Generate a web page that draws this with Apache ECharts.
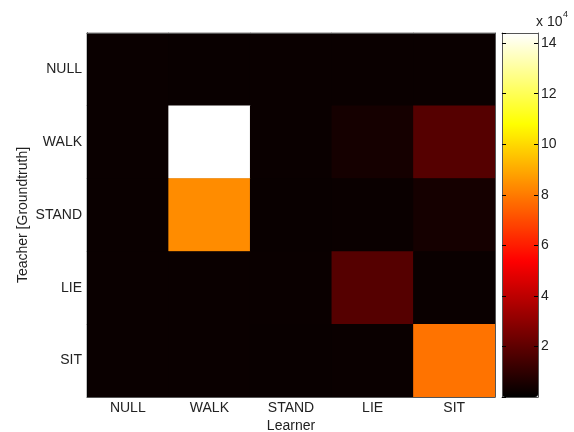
<!DOCTYPE html>
<html><head><meta charset="utf-8">
<script src="https://cdn.jsdelivr.net/npm/echarts@6/dist/echarts.min.js"></script>
<style>html,body{margin:0;padding:0;background:#fff}#c{width:574px;height:432px}</style>
</head><body><div id="c"></div>
<script>
const learners = ['NULL', 'WALK', 'STAND', 'LIE', 'SIT'];
const teachers = ['NULL', 'WALK', 'STAND', 'LIE', 'SIT'];
// rows: teacher (groundtruth), columns: learner
const nullRow  = [2100, 2000, 2150, 2050, 2100];
const walkRow  = [2050, 144000, 2100, 4450, 18000];
const standRow = [2100, 83700, 2000, 2150, 4450];
const lieRow   = [2150, 2050, 2100, 18000, 2100];
const sitRow   = [2050, 2100, 2000, 2150, 78400];
const rows = [nullRow, walkRow, standRow, lieRow, sitRow];
const colorMin = 0;
const colorMax = 144000;
const colorTickStep = 20000;

const data = [];
rows.forEach((r, i) => r.forEach((v, j) => data.push([j, i, v])));

const hot = ['#000000','#550000','#aa0000','#ff0000','#ff5500','#ffaa00','#ffff00','#ffff80','#ffffff'];
const font = 'Liberation Sans, Arial, sans-serif';
const fs = 14;
const txt = '#222';
const frame = '#555';

const chart = echarts.init(document.getElementById('c'), null, {renderer: 'canvas'});
chart.setOption({
  animation: false,
  backgroundColor: '#fff',
  title: [
    {text: 'x 10', left: 536, top: 15, padding: 0,
     textStyle: {fontFamily: font, fontSize: fs, fontWeight: 'normal', color: txt}},
    {text: '4', left: 563, top: 10, padding: 0,
     textStyle: {fontFamily: font, fontSize: 9, fontWeight: 'normal', color: txt}}
  ],
  grid: [
    {left: 87, right: 79, top: 33, bottom: 35, show: true, backgroundColor: '#0a0000', borderWidth: 0,
     containLabel: false, outerBoundsMode: 'none'},
    {left: 502, right: 36, top: 33, bottom: 35, containLabel: false, outerBoundsMode: 'none'}
  ],
  xAxis: [
    {type: 'category', data: learners, gridIndex: 0, position: 'bottom', z: 5,
     name: 'Learner', nameLocation: 'middle', nameGap: 22, nameMoveOverlap: false,
     nameTextStyle: {fontFamily: font, fontSize: fs, color: txt},
     axisLine: {lineStyle: {color: frame, width: 1}},
     axisTick: {inside: true, alignWithLabel: true, length: 5, lineStyle: {color: frame}},
     axisLabel: {fontFamily: font, fontSize: fs, color: txt, margin: 4},
     splitLine: {show: false}},
    {type: 'category', data: learners, gridIndex: 0, position: 'top', z: 5,
     axisLine: {lineStyle: {color: frame, width: 1}},
     axisTick: {inside: true, alignWithLabel: true, length: 5, lineStyle: {color: frame}},
     axisLabel: {show: false}, splitLine: {show: false}},
    {type: 'value', gridIndex: 1, position: 'bottom', min: 0, max: 1, z: 10,
     axisLine: {onZero: false, lineStyle: {color: frame}}, axisTick: {show: false}, axisLabel: {show: false}, splitLine: {show: false}},
    {type: 'value', gridIndex: 1, position: 'top', min: 0, max: 1, z: 10,
     axisLine: {onZero: false, lineStyle: {color: frame}}, axisTick: {show: false}, axisLabel: {show: false}, splitLine: {show: false}}
  ],
  yAxis: [
    {type: 'category', data: teachers, gridIndex: 0, inverse: true, position: 'left', z: 5,
     name: 'Teacher [Groundtruth]', nameLocation: 'middle', nameGap: 57, nameMoveOverlap: false,
     nameTextStyle: {fontFamily: font, fontSize: fs, color: txt},
     axisLine: {lineStyle: {color: '#000', width: 1}},
     axisTick: {inside: true, alignWithLabel: true, length: 5, lineStyle: {color: frame}},
     axisLabel: {fontFamily: font, fontSize: fs, color: txt, margin: 5},
     splitLine: {show: false}},
    {type: 'category', data: teachers, gridIndex: 0, inverse: true, position: 'right', z: 5,
     axisLine: {lineStyle: {color: frame, width: 1}},
     axisTick: {inside: true, alignWithLabel: true, length: 5, lineStyle: {color: frame}},
     axisLabel: {show: false}, splitLine: {show: false}},
    {type: 'value', gridIndex: 1, position: 'right', min: colorMin, max: colorMax, interval: colorTickStep, z: 10,
     axisLine: {onZero: false, lineStyle: {color: frame}},
     axisTick: {inside: true, length: 4, lineStyle: {color: '#000'}},
     axisLabel: {fontFamily: font, fontSize: fs, color: txt, margin: 3, showMinLabel: false, showMaxLabel: false,
                 formatter: v => (v === 0 ? '' : String(v / 10000))},
     splitLine: {show: false}},
    {type: 'value', gridIndex: 1, position: 'left', min: colorMin, max: colorMax, interval: colorTickStep, z: 10,
     axisLine: {onZero: false, lineStyle: {color: frame}},
     axisTick: {inside: true, length: 4, lineStyle: {color: '#000'}},
     axisLabel: {show: false}, splitLine: {show: false}}
  ],
  visualMap: {
    type: 'continuous', min: colorMin, max: colorMax, calculable: false,
    seriesIndex: 0, orient: 'vertical', left: 502, top: 33, padding: 0,
    itemWidth: 36, itemHeight: 364, text: null, hoverLink: false,
    inRange: {color: hot}
  },
  series: [{
    type: 'heatmap', xAxisIndex: 0, yAxisIndex: 0, data: data,
    itemStyle: {borderWidth: 0}, emphasis: {disabled: true}, progressive: 0
  }]
});
</script></body></html>
